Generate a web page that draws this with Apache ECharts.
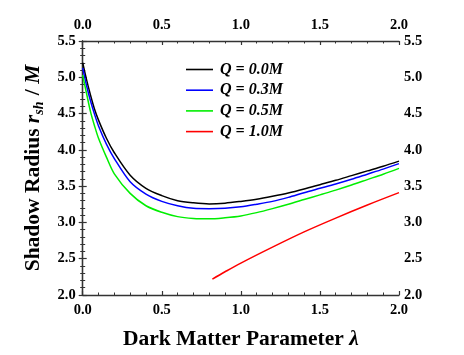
<!DOCTYPE html>
<html><head><meta charset="utf-8">
<script src="https://cdn.jsdelivr.net/npm/echarts@6/dist/echarts.min.js"></script>
<style>html,body{margin:0;padding:0;background:#fff}#c{width:464px;height:355px}</style>
</head><body><div id="c"></div>
<script>
var lambdaGrid = [0, 0.025, 0.05, 0.075, 0.1, 0.15, 0.2, 0.3, 0.4, 0.5, 0.6, 0.7, 0.8, 0.9, 1.0, 1.1, 1.2, 1.3, 1.4, 1.5, 1.6, 1.7, 1.8, 1.9, 2.0];
var q00 = [5.2, 4.96, 4.75, 4.56, 4.41, 4.16, 3.96, 3.65, 3.47, 3.37, 3.30, 3.27, 3.255, 3.265, 3.29, 3.32, 3.36, 3.405, 3.46, 3.52, 3.58, 3.645, 3.71, 3.775, 3.845];
var q03 = [5.13, 4.88, 4.67, 4.49, 4.33, 4.08, 3.88, 3.56, 3.39, 3.29, 3.23, 3.195, 3.19, 3.195, 3.215, 3.25, 3.29, 3.345, 3.41, 3.47, 3.53, 3.595, 3.665, 3.735, 3.81];
var q05 = [5.03, 4.77, 4.52, 4.33, 4.16, 3.90, 3.67, 3.40, 3.23, 3.14, 3.08, 3.055, 3.05, 3.065, 3.09, 3.135, 3.19, 3.25, 3.315, 3.38, 3.445, 3.515, 3.59, 3.665, 3.745];
var lambdaRed = [0.82, 0.9, 1.0, 1.2, 1.4, 1.6, 1.8, 2.0];
var q10 = [2.22, 2.32, 2.44, 2.66, 2.87, 3.06, 3.24, 3.41];
var xTicks = ['0.0', '0.5', '1.0', '1.5', '2.0'];
var yTicks = ['2.0', '2.5', '3.0', '3.5', '4.0', '4.5', '5.0', '5.5'];
var names = ['Q = 0.0M', 'Q = 0.3M', 'Q = 0.5M', 'Q = 1.0M'];
var colors = ['#000000', '#0000ff', '#00ee00', '#ff0000'];

function pairs(xs, ys){ return xs.map(function(x,i){ return [x, ys[i]]; }); }

var serif = '"Liberation Serif","DejaVu Serif",serif';
var axisCommonX = {
  type: 'value', min: 0, max: 2, interval: 0.5,
  axisLine: {show: true, lineStyle: {color: '#333', width: 1.3}},
  axisTick: {show: true, inside: true, length: 4, lineStyle: {color: '#333', width: 1.2}},
  minorTick: {show: true, splitNumber: 5, length: 2.5, lineStyle: {color: '#333', width: 1}},
  splitLine: {show: false}, minorSplitLine: {show: false},
  axisLabel: {color: '#000', fontFamily: serif, fontWeight: 'bold', fontSize: 14.5, margin: 8,
    formatter: function(v){ return xTicks[Math.round(v / 0.5)]; }}
};
var axisCommonY = {
  type: 'value', min: 2, max: 5.5, interval: 0.5,
  axisLine: {show: true, lineStyle: {color: '#333', width: 1.3}},
  axisTick: {show: true, inside: false, length: 4, lineStyle: {color: '#333', width: 1.2}},
  minorTick: {show: true, splitNumber: 5, length: 2.5, lineStyle: {color: '#333', width: 1}},
  splitLine: {show: false}, minorSplitLine: {show: false},
  axisLabel: {color: '#000', fontFamily: serif, fontWeight: 'bold', fontSize: 14.5, margin: 5,
    formatter: function(v){ return yTicks[Math.round((v - 2) / 0.5)]; }}
};

var chart = echarts.init(document.getElementById('c'));
var seriesData = [pairs(lambdaGrid, q00), pairs(lambdaGrid, q03), pairs(lambdaGrid, q05), pairs(lambdaRed, q10)];
chart.setOption({
  animation: false,
  grid: {left: 82.7, right: 65, top: 41, bottom: 59},
  legend: {
    left: 181, top: 56.5, orient: 'vertical', itemWidth: 27, itemHeight: 1.6, itemGap: 4.7,
    icon: 'rect',
    textStyle: {fontFamily: serif, fontWeight: 'bold', fontStyle: 'italic', fontSize: 16, lineHeight: 16, color: '#000', padding: [0, 0, 0, 2]},
    data: names.map(function(n, i){ return {name: n, itemStyle: {color: colors[i]}}; })
  },
  xAxis: [
    Object.assign({}, axisCommonX, {position: 'bottom',
      name: '{a|Dark Matter Parameter }{i|λ}', nameLocation: 'middle', nameGap: 33,
      nameTextStyle: {rich: {
        a: {fontFamily: serif, fontWeight: 'bold', fontSize: 21.5, color: '#000'},
        i: {fontFamily: serif, fontWeight: 'bold', fontStyle: 'italic', fontSize: 21.5, color: '#000'}
      }}}),
    Object.assign({}, axisCommonX, {position: 'top'})
  ],
  yAxis: [
    Object.assign({}, axisCommonY, {position: 'left',
      axisLabel: Object.assign({}, axisCommonY.axisLabel, {margin: 7}),
      name: '{a|Shadow Radius }{i|r}{s|sh}{a| / }{i|M}', nameLocation: 'middle', nameGap: 35, nameRotate: 90,
      nameTextStyle: {rich: {
        a: {fontFamily: serif, fontWeight: 'bold', fontSize: 21.5, color: '#000', lineHeight: 27, verticalAlign: 'middle'},
        i: {fontFamily: serif, fontWeight: 'bold', fontStyle: 'italic', fontSize: 21.5, color: '#000', lineHeight: 27, verticalAlign: 'middle'},
        s: {fontFamily: serif, fontWeight: 'bold', fontStyle: 'italic', fontSize: 14, color: '#000', lineHeight: 27, verticalAlign: 'bottom', padding: [0, 1, 0, 0]}
      }}}),
    Object.assign({}, axisCommonY, {position: 'right'})
  ],
  series: seriesData.map(function(d, i){
    return {
      name: names[i], type: 'line', data: d, smooth: 0.3, symbol: 'none',
      xAxisIndex: 0, yAxisIndex: 0,
      lineStyle: {color: colors[i], width: 1.5}, itemStyle: {color: colors[i]}
    };
  })
});
</script></body></html>
